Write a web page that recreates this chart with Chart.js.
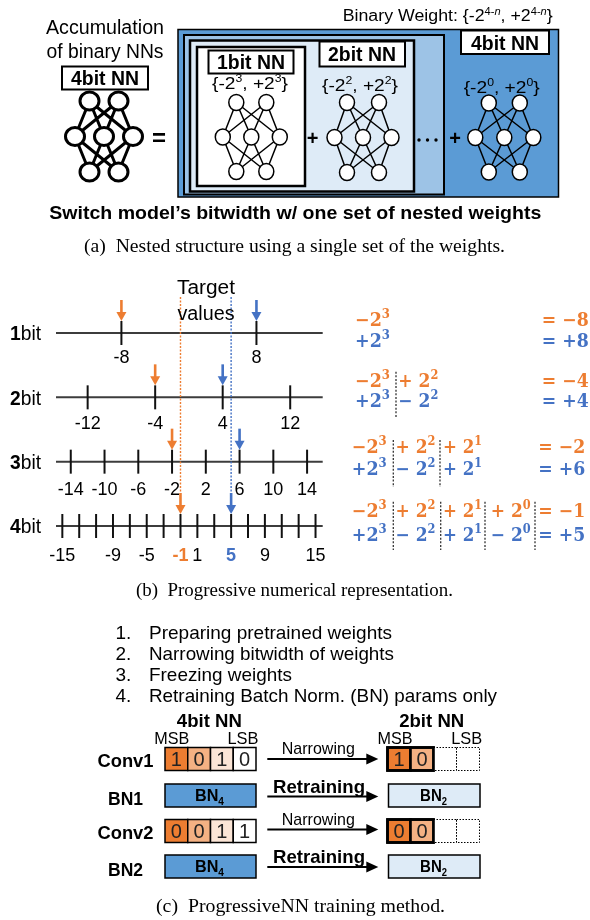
<!DOCTYPE html>
<html>
<head>
<meta charset="utf-8">
<title>ProgressiveNN</title>
<script src="https://cdn.jsdelivr.net/npm/chart.js@4.4.1/dist/chart.umd.min.js"></script>
<style>
  html, body { margin: 0; padding: 0; background: #fff; }
  canvas { display: block; }
</style>
</head>
<body>
<canvas id="fig" width="590" height="920"></canvas>
<script>
// ---- number-line data ----
const rows = ['1bit', '2bit', '3bit', '4bit'];
const ticks1bit = [-8, 8];
const ticks2bit = [-12, -4, 4, 12];
const ticks3bit = [-14, -10, -6, -2, 2, 6, 10, 14];
const ticks4bit = [-15, -13, -11, -9, -7, -5, -3, -1, 1, 3, 5, 7, 9, 11, 13, 15];
const labels1bit = [-8, 8];
const labels2bit = [-12, -4, 4, 12];
const labels3bit = [-14, -10, -6, -2, 2, 6, 10, 14];
const labels4bit = [-15, -9, -5, -1, 1, 5, 9, 15];
const targetValues = [-1, 5];
const negApprox = [-8, -4, -2, -1];   // value reached toward the negative target per bitwidth
const posApprox = [8, 4, 6, 5];       // value reached toward the positive target per bitwidth
// ---- signed binary terms, MSB first ----
const exponents = [3, 2, 1, 0];
const negSigns = ['−', '+', '+', '+'];
const posSigns = ['+', '−', '+', '−'];
// ---- training method ----
const steps = ['Preparing pretrained weights', 'Narrowing bitwidth of weights',
               'Freezing weights', 'Retraining Batch Norm. (BN) params only'];
const conv1Bits = ['1', '0', '1', '0'];
const conv2Bits = ['0', '0', '1', '1'];

const ORANGE = '#ED7D31', BLUE = '#4472C4';
const SANS = '"Liberation Sans", Arial, sans-serif';
const SERIF = '"Liberation Serif", "Times New Roman", serif';
const MATH = '"DejaVu Serif", serif';
const cellColors = ['#ED7D31', '#F4B183', '#FBE5D6', '#FFFFFF'];

// Draw a run of text pieces; y is the visual centre of the capitals.
function drawRuns(ctx, parts, x, y, o = {}) {
  const cap = o.cap ?? 0.36;
  const main = o.size ?? parts[0].s;
  ctx.save();
  let total = 0;
  for (const p of parts) {
    p.font = `${p.it ? 'italic ' : ''}${p.b ? 'bold ' : ''}${p.s}px ${p.fam || o.fam || SANS}`;
    ctx.font = p.font;
    p.w = ctx.measureText(p.t).width;
    total += p.w;
  }
  const sx = o.w ? o.w / total : 1;
  const dw = total * sx;
  const x0 = o.align === 'center' ? x - dw / 2 : o.align === 'right' ? x - dw : x;
  ctx.translate(x0, y + cap * main);
  ctx.scale(sx, 1);
  ctx.textBaseline = 'alphabetic';
  ctx.textAlign = 'left';
  let cx = 0;
  for (const p of parts) {
    ctx.font = p.font;
    ctx.fillStyle = p.c || o.c || '#000';
    ctx.fillText(p.t, cx, p.dy || 0);
    cx += p.w;
  }
  ctx.restore();
}
function T(ctx, t, x, y, s, o = {}) {
  drawRuns(ctx, [{ t, s, b: o.b, fam: o.fam, c: o.c }], x, y, o);
}
function box(ctx, x, y, w, h, fill, lw, dash) {
  ctx.save();
  if (fill) { ctx.fillStyle = fill; ctx.fillRect(x, y, w, h); }
  ctx.lineWidth = lw; ctx.strokeStyle = '#000';
  if (dash) ctx.setLineDash(dash);
  ctx.strokeRect(x, y, w, h);
  ctx.restore();
}
// Small fully connected 2-3-2 network icon
function net(ctx, cx, cy, dTop, dMid, dy, rx, ry, lw) {
  const top = [[cx - dTop, cy - dy], [cx + dTop, cy - dy]];
  const mid = [[cx - dMid, cy], [cx, cy], [cx + dMid, cy]];
  const bot = [[cx - dTop, cy + dy], [cx + dTop, cy + dy]];
  ctx.save();
  ctx.strokeStyle = '#000'; ctx.lineWidth = lw;
  ctx.beginPath();
  for (const a of top) for (const b of mid) { ctx.moveTo(a[0], a[1]); ctx.lineTo(b[0], b[1]); }
  for (const a of mid) for (const b of bot) { ctx.moveTo(a[0], a[1]); ctx.lineTo(b[0], b[1]); }
  ctx.stroke();
  for (const p of [...top, ...mid, ...bot]) {
    ctx.beginPath();
    ctx.ellipse(p[0], p[1], rx, ry, 0, 0, Math.PI * 2);
    ctx.fillStyle = '#fff'; ctx.fill(); ctx.stroke();
  }
  ctx.restore();
}
// "{-2^e, +2^e}" weight set
function setText(exp, s) {
  return [{ t: '{-2', s }, { t: exp, s: s * 0.64, dy: -s * 0.42 },
          { t: ', +2', s }, { t: exp, s: s * 0.64, dy: -s * 0.42 }, { t: '}', s }];
}
function vDash(ctx, x, y1, y2, color, lw, dash) {
  ctx.save();
  ctx.strokeStyle = color; ctx.lineWidth = lw; ctx.setLineDash(dash);
  ctx.beginPath(); ctx.moveTo(x, y1); ctx.lineTo(x, y2); ctx.stroke();
  ctx.restore();
}
function downArrow(ctx, x, yTop, yTip, color) {
  ctx.save();
  ctx.strokeStyle = color; ctx.fillStyle = color; ctx.lineWidth = 2.6;
  ctx.beginPath(); ctx.moveTo(x, yTop); ctx.lineTo(x, yTip - 7); ctx.stroke();
  ctx.beginPath(); ctx.moveTo(x - 5, yTip - 9); ctx.lineTo(x + 5, yTip - 9); ctx.lineTo(x, yTip); ctx.closePath(); ctx.fill();
  ctx.restore();
}
function rightArrow(ctx, x1, x2, y) {
  ctx.save();
  ctx.strokeStyle = '#000'; ctx.fillStyle = '#000'; ctx.lineWidth = 2;
  ctx.beginPath(); ctx.moveTo(x1, y); ctx.lineTo(x2 - 8, y); ctx.stroke();
  ctx.beginPath(); ctx.moveTo(x2 - 12, y - 5.5); ctx.lineTo(x2, y); ctx.lineTo(x2 - 12, y + 5.5); ctx.closePath(); ctx.fill();
  ctx.restore();
}

// ---------- (a) nested structure ----------
function drawNested(ctx) {
  T(ctx, 'Accumulation', 105, 27, 20, { align: 'center', w: 118 });
  T(ctx, 'of binary NNs', 105, 51, 20, { align: 'center', w: 117 });
  box(ctx, 62, 66.5, 86, 23, '#fff', 2);
  T(ctx, '4bit NN', 105, 78, 20, { align: 'center', b: true, w: 68 });
  net(ctx, 104, 136.5, 14.5, 29, 35.5, 9.5, 9, 3);
  T(ctx, '=', 159, 137, 24, { align: 'center', b: true });

  box(ctx, 178, 29.5, 380.5, 167.5, '#5B9BD5', 1.5);
  box(ctx, 184, 35, 260, 159.5, '#9DC3E6', 2);
  box(ctx, 190, 40.5, 224, 151, '#DEEBF7', 2.5);
  box(ctx, 197, 47, 108, 139, '#FFFFFF', 2.5);

  drawRuns(ctx, [
    { t: 'Binary Weight: {-2', s: 16 }, { t: '4-', s: 10, dy: -6 }, { t: 'n', s: 10, it: true, dy: -6 },
    { t: ', +2', s: 16 }, { t: '4-', s: 10, dy: -6 }, { t: 'n', s: 10, it: true, dy: -6 }, { t: '}', s: 16 }
  ], 342.7, 15, { w: 210 });

  box(ctx, 208.5, 50.5, 85, 23, '#fff', 2);
  T(ctx, '1bit NN', 251, 62, 20, { align: 'center', b: true, w: 68 });
  drawRuns(ctx, setText('3', 17), 250, 83, { align: 'center', w: 76 });
  net(ctx, 251.3, 137, 15, 28.5, 34.5, 7.5, 8, 1.5);

  box(ctx, 319.5, 41.5, 85.5, 25, '#fff', 2);
  T(ctx, '2bit NN', 362, 54, 20, { align: 'center', b: true, w: 68 });
  drawRuns(ctx, setText('2', 17), 360, 85, { align: 'center', w: 76 });
  net(ctx, 363, 137.5, 16, 28.5, 35, 7.5, 8, 1.5);
  T(ctx, '+', 312.7, 138, 20, { align: 'center', b: true });

  ctx.fillStyle = '#000';
  for (const dx of [419, 427.5, 436]) { ctx.beginPath(); ctx.arc(dx, 140, 1.7, 0, Math.PI * 2); ctx.fill(); }

  box(ctx, 461, 30.5, 88, 23.5, '#fff', 2);
  T(ctx, '4bit NN', 505, 42.5, 20, { align: 'center', b: true, w: 68 });
  drawRuns(ctx, setText('0', 17), 501.7, 87, { align: 'center', w: 76 });
  net(ctx, 504.3, 137.5, 15.5, 29, 34.5, 7.5, 8, 1.5);
  T(ctx, '+', 455, 138, 20, { align: 'center', b: true });

  T(ctx, 'Switch model’s bitwidth w/ one set of nested weights', 295.3, 212, 19, { align: 'center', b: true, w: 492 });
  T(ctx, '(a)  Nested structure using a single set of the weights.', 294.5, 246, 19,
    { align: 'center', fam: SERIF, cap: 0.33, w: 421 });
}

// ---------- (b) signed-term equations ----------
function drawEquations(ctx) {
  const yNeg = [320, 381, 447, 511], yPos = [341, 401, 469, 535];
  const colX = [[355, 398.3], [355, 398.3], [351.7, 395.5, 443, 490.7], [351.7, 395.5, 443, 490.7]];
  const colW = [35, 40, 39, 40];
  const resX = [541.7, 541.7, 538.3, 538.3];
  const sepX = [[], [396], [393.3, 440], [393.3, 440.7, 485, 535]];
  const sepY = [null, [371.7, 418], [440, 487], [501.7, 550]];
  const fmt = v => (v < 0 ? '−' : '+') + Math.abs(v);
  for (let r = 0; r < rows.length; r++) {
    for (let k = 0; k <= r; k++) {
      [[negSigns, yNeg, ORANGE], [posSigns, yPos, BLUE]].forEach(([signs, ys, c]) => {
        drawRuns(ctx, [
          { t: signs[k] + (k ? ' 2' : '2'), s: 18, b: true, fam: MATH },
          { t: String(exponents[k]), s: 12, b: true, fam: MATH, dy: -8 }
        ], colX[r][k], ys[r], { w: colW[k], c, size: 18 });
      });
    }
    drawRuns(ctx, [{ t: '= ' + fmt(negApprox[r]), s: 18, b: true, fam: MATH }], resX[r], yNeg[r], { w: 47, c: ORANGE });
    drawRuns(ctx, [{ t: '= ' + fmt(posApprox[r]), s: 18, b: true, fam: MATH }], resX[r], yPos[r], { w: 47, c: BLUE });
    for (const sx of sepX[r]) vDash(ctx, sx, sepY[r][0], sepY[r][1], '#333', 1.3, [2, 1.6]);
  }
  T(ctx, '(b)  Progressive numerical representation.', 294.5, 590, 19,
    { align: 'center', fam: SERIF, cap: 0.33, w: 317 });
}

// ---------- (c) training method ----------
function drawTraining(ctx) {
  const stepW = [243, 245, 143, 348];
  steps.forEach((s, i) => {
    const y = 632.5 + i * 21;
    T(ctx, (i + 1) + '.', 115.5, y, 19);
    T(ctx, s, 149, y, 19, { w: stepW[i] });
  });
  T(ctx, '4bit NN', 209.3, 720, 19, { align: 'center', b: true, w: 65 });
  T(ctx, '2bit NN', 431.7, 720, 19, { align: 'center', b: true, w: 65 });
  T(ctx, 'MSB', 171.7, 738, 17, { align: 'center', w: 35 });
  T(ctx, 'LSB', 243, 738, 17, { align: 'center', w: 31 });
  T(ctx, 'MSB', 395, 738, 17, { align: 'center', w: 35 });
  T(ctx, 'LSB', 466.7, 738, 17, { align: 'center', w: 31 });

  const rowY = { conv1: 759, bn1: 795.5, conv2: 831, bn2: 866.5 };
  T(ctx, 'Conv1', 125.5, rowY.conv1 + 1.5, 19, { align: 'center', b: true, w: 56 });
  T(ctx, 'BN1', 125.5, rowY.bn1 + 2.5, 19, { align: 'center', b: true, w: 35 });
  T(ctx, 'Conv2', 125.5, rowY.conv2 + 1.5, 19, { align: 'center', b: true, w: 56 });
  T(ctx, 'BN2', 125.5, rowY.bn2 + 2.5, 19, { align: 'center', b: true, w: 35 });

  const cw = 22.75, ch = 23;
  const bitRow = (bits, y) => {
    bits.forEach((b, i) => {
      const x = 165 + i * cw;
      box(ctx, x, y - ch / 2, cw, ch, cellColors[i], 1.5);
      T(ctx, b, x + cw / 2, y, 20, { align: 'center', c: '#222' });
    });
    for (let i = 0; i < 4; i++) {
      const x = 387.5 + i * 23;
      if (i < 2) {
        box(ctx, x, y - ch / 2, 23, ch, cellColors[i], 2.6);
        T(ctx, bits[i], x + 11.5, y, 20, { align: 'center', c: '#222' });
      } else {
        box(ctx, x, y - ch / 2, 23, ch, '#fff', 1, [1.5, 1.5]);
      }
    }
    box(ctx, 387.5, y - ch / 2, 46, ch, null, 2.6);
  };
  bitRow(conv1Bits, rowY.conv1);
  bitRow(conv2Bits, rowY.conv2);

  const bnRow = y => {
    box(ctx, 165, y - 11.5, 91, 23, '#5B9BD5', 1.5);
    drawRuns(ctx, [{ t: 'BN', s: 16, b: true }, { t: '4', s: 10, b: true, dy: 4 }], 209.5, y, { align: 'center', w: 29 });
    box(ctx, 388.5, y - 11.5, 91.5, 23, '#DEEBF7', 1.5);
    drawRuns(ctx, [{ t: 'BN', s: 16, b: true }, { t: '2', s: 10, b: true, dy: 4 }], 433.5, y, { align: 'center', w: 27 });
  };
  bnRow(rowY.bn1);
  bnRow(rowY.bn2);

  const arrows = [[rowY.conv1, 'Narrowing', false], [rowY.bn1 + 1, 'Retraining', true],
                  [rowY.conv2 - 1.5, 'Narrowing', false], [rowY.bn2 + 0.5, 'Retraining', true]];
  for (const [y, label, bold] of arrows) {
    rightArrow(ctx, 267.3, 378.3, y);
    if (bold) T(ctx, label, 319, y - 10.5, 19, { align: 'center', b: true, w: 92 });
    else T(ctx, label, 318.3, y - 11, 17, { align: 'center', w: 73 });
  }
  T(ctx, '(c)  ProgressiveNN training method.', 300.5, 906, 19,
    { align: 'center', fam: SERIF, cap: 0.33, w: 289 });
}

// ---------- number lines through the chart scales ----------
const tickSets = [ticks1bit, ticks2bit, ticks3bit, ticks4bit];
const labelSets = [labels1bit, labels2bit, labels3bit, labels4bit];
const labelOffset = [24, 25, 27, 29];

const figurePlugin = {
  id: 'figure',
  beforeDraw(chart) {
    const ctx = chart.ctx;
    ctx.save(); ctx.fillStyle = '#fff'; ctx.fillRect(0, 0, chart.width, chart.height); ctx.restore();
  },
  beforeDatasetsDraw(chart) {
    const { ctx, chartArea: a, scales: { x, y } } = chart;
    ctx.save();
    ctx.strokeStyle = '#3c3c3c'; ctx.lineWidth = 2;
    rows.forEach(r => {
      const py = y.getPixelForValue(r);
      ctx.beginPath(); ctx.moveTo(a.left, py); ctx.lineTo(a.right, py); ctx.stroke();
    });
    ctx.restore();
    const yLast = y.getPixelForValue(rows[rows.length - 1]);
    vDash(ctx, x.getPixelForValue(targetValues[0]), 297, yLast - 33, ORANGE, 1.4, [2, 1.5]);
    vDash(ctx, x.getPixelForValue(targetValues[1]), 297, yLast - 33, BLUE, 1.4, [2, 1.5]);
  },
  afterDatasetsDraw(chart) {
    const { ctx, scales: { x, y } } = chart;
    rows.forEach((r, i) => {
      const py = y.getPixelForValue(r);
      downArrow(ctx, x.getPixelForValue(negApprox[i]), py - 33, py - 12, ORANGE);
      downArrow(ctx, x.getPixelForValue(posApprox[i]), py - 33, py - 12, BLUE);
      labelSets[i].forEach(v => {
        const last = i === rows.length - 1;
        let c = '#000', b = false;
        if (last && v === targetValues[0]) { c = ORANGE; b = true; }
        if (last && v === targetValues[1]) { c = BLUE; b = true; }
        T(ctx, String(v), x.getPixelForValue(v), py + labelOffset[i], 18, { align: 'center', c, b });
      });
      drawRuns(ctx, [{ t: r.charAt(0), s: 20, b: true }, { t: r.slice(1), s: 20 }], 41, py, { align: 'right', w: 31 });
    });
    T(ctx, 'Target', 206, 287, 20, { align: 'center', w: 58 });
    T(ctx, 'values', 206, 312.5, 20, { align: 'center', w: 57 });
  },
  afterDraw(chart) {
    const ctx = chart.ctx;
    drawNested(ctx);
    drawEquations(ctx);
    drawTraining(ctx);
  }
};

new Chart(document.getElementById('fig'), {
  type: 'scatter',
  data: {
    datasets: tickSets.map((arr, i) => ({
      label: rows[i],
      data: arr.map(v => ({ x: v, y: rows[i] })),
      pointStyle: 'line',
      rotation: 90,
      radius: 12,
      borderWidth: 2,
      borderColor: '#111',
      backgroundColor: '#111',
      clip: false
    }))
  },
  options: {
    responsive: false,
    animation: false,
    devicePixelRatio: 1,
    events: [],
    layout: { padding: { left: 56, right: 267.3, top: 333, bottom: 394 } },
    scales: {
      x: { type: 'linear', min: -15.75, max: 15.85, display: false },
      y: { type: 'category', labels: rows, offset: false, display: false }
    },
    plugins: { legend: { display: false }, tooltip: { enabled: false } }
  },
  plugins: [figurePlugin]
});
</script>
</body>
</html>
